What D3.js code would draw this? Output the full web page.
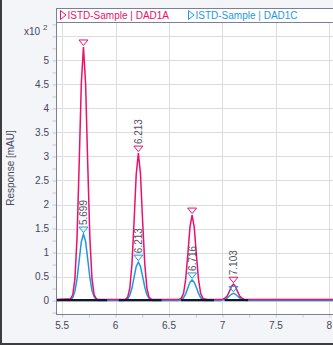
<!DOCTYPE html>
<html><head><meta charset="utf-8">
<script src="https://cdn.jsdelivr.net/npm/d3@7"></script>
<style>body{margin:0;background:#f4f5f8;}svg{display:block;font-family:"Liberation Sans",Arial,sans-serif;}</style>
</head><body><svg id="c" width="333" height="345"></svg>
<script>
// ---- data ----
const times = [5.44,
  5.579,5.599,5.619,5.639,5.659,5.679,5.699,5.719,5.739,5.759,5.779,5.799,5.819, 5.84,
  6.07, 6.093,6.113,6.133,6.153,6.173,6.193,6.213,6.233,6.253,6.273,6.293,6.313,6.333, 6.35,
  6.58, 6.596,6.616,6.636,6.656,6.676,6.696,6.716,6.736,6.756,6.776,6.796,6.816,6.836, 6.86,
  6.96, 6.983,7.003,7.023,7.043,7.063,7.083,7.103,7.123,7.143,7.163,7.183,7.203,7.223, 7.25,
  8.04];
const dad1a = [0.02,
  0.04,0.12,0.45,1.31,2.85,4.52,5.28,4.52,2.85,1.31,0.45,0.12,0.04, 0.02,
  0.02, 0.03,0.07,0.26,0.76,1.65,2.63,3.07,2.63,1.65,0.76,0.26,0.07,0.03, 0.02,
  0.02, 0.03,0.05,0.15,0.44,0.96,1.53,1.78,1.53,0.96,0.44,0.15,0.05,0.03, 0.02,
  0.02, 0.02,0.03,0.05,0.09,0.18,0.29,0.34,0.29,0.18,0.09,0.05,0.03,0.02, 0.02,
  0.02];
const dad1c = [0,
  0.02,0.06,0.19,0.45,0.84,1.22,1.385,1.23,0.86,0.48,0.21,0.08,0.02, 0,
  0, 0.01,0.04,0.11,0.26,0.49,0.71,0.80,0.71,0.50,0.28,0.12,0.05,0.01, 0,
  0, 0.0,0.02,0.06,0.14,0.26,0.38,0.43,0.38,0.27,0.15,0.06,0.02,0.0, 0,
  0, 0,0.01,0.02,0.05,0.09,0.13,0.15,0.13,0.09,0.05,0.02,0.01,0, 0,
  0];
const peakTimes = [5.699, 6.213, 6.716, 7.103];
const peakHeightsA = [5.28, 3.07, 1.78, 0.34];
const peakHeightsC = [1.385, 0.80, 0.43, 0.15];
const peakLabelsA = ["", "6.213", "", "7.103"];
const peakLabelsC = ["5.699", "6.213", "6.716", ""];
const baselineStarts = [5.44, 6.03, 6.61, 7.02];
const baselineEnds = [5.92, 6.43, 6.92, 7.24];
const xTicks = [5.5, 6, 6.5, 7, 7.5, 8];
const xTickLabels = ["5.5", "6", "6.5", "7", "7.5", "8"];
const yTicks = [0, 0.5, 1, 1.5, 2, 2.5, 3, 3.5, 4, 4.5, 5];
const yTickLabels = ["0", "0.5", "1", "1.5", "2", "2.5", "3", "3.5", "4", "4.5", "5"];
const seriesNames = ["ISTD-Sample | DAD1A", "ISTD-Sample | DAD1C"];

// ---- layout ----
const L = 56, R = 333, T = 22, B = 314, LT = 8;
const pink = "#ec0f6c", blue = "#1c98e4", frame = "#7c8097", txt = "#43475c";
const svg = d3.select("#c");
const x = d3.scaleLinear().domain([5.442, 8.035]).range([L, R]);
const y = d3.scaleLinear().domain([-0.28, 5.8]).range([B, T]);

svg.append("rect").attr("width",333).attr("height",345).attr("fill","#f4f5f8");
svg.append("rect").attr("x",0).attr("y",0).attr("width",2).attr("height",345).attr("fill","#3d3d40");
svg.append("rect").attr("x",0).attr("y",343).attr("width",333).attr("height",2).attr("fill","#3d3d40");
svg.append("rect").attr("x",L).attr("y",LT).attr("width",R-L).attr("height",B-LT).attr("fill","#fff");

// grid
const g = svg.append("g");
g.selectAll(".vg").data(xTicks).join("line")
  .attr("x1",d=>Math.round(x(d))+0.5).attr("x2",d=>Math.round(x(d))+0.5)
  .attr("y1",T).attr("y2",B).attr("stroke","#dddddd");
g.selectAll(".hg").data(d3.range(0, 5.51, 0.5)).join("line")
  .attr("y1",d=>Math.round(y(d))+0.5).attr("y2",d=>Math.round(y(d))+0.5)
  .attr("x1",L).attr("x2",R).attr("stroke","#dddddd");

// axes
const xAxis = d3.axisBottom(x).tickValues(d3.range(5.5, 8.01, 0.25)).tickSize(3).tickFormat("");
const ax = svg.append("g").attr("transform",`translate(0,${B+0.5})`).call(xAxis);
ax.select(".domain").remove();
ax.selectAll("line").attr("stroke","#c8c8cc");
const yAxis = d3.axisLeft(y).tickValues(d3.range(-0.25, 5.76, 0.25)).tickSize(4).tickFormat("");
const ay = svg.append("g").attr("transform",`translate(${L+0.5},0)`).call(yAxis);
ay.select(".domain").remove();
ay.selectAll("line").attr("stroke","#c8c8cc");

svg.selectAll(".xl").data(xTicks).join("text")
  .attr("x",d=>x(d)).attr("y",329).attr("text-anchor","middle")
  .attr("font-size",10).attr("fill",txt).text((d,i)=>xTickLabels[i]);
svg.selectAll(".yl").data(yTicks).join("text")
  .attr("x",49).attr("y",d=>y(d)+3.6).attr("text-anchor","end")
  .attr("font-size",10).attr("fill",txt).text((d,i)=>yTickLabels[i]);
const mult = svg.append("text").attr("x",24).attr("y",35).attr("font-size",10).attr("fill",txt);
mult.append("tspan").text("x10 ");
mult.append("tspan").attr("dy",-5).attr("font-size",8).text("2");
svg.append("text").attr("transform","translate(13.5,168) rotate(-90)").attr("text-anchor","middle")
  .attr("font-size",10).attr("fill",txt).text("Response [mAU]");

// traces
const clip = svg.append("clipPath").attr("id","pc").append("rect")
  .attr("x",L).attr("y",T).attr("width",R-L).attr("height",B-T);
const plot = svg.append("g").attr("clip-path","url(#pc)");
const line = d3.line().x(d=>x(d[0])).y(d=>y(d[1]));
plot.append("path").datum(times.map((t,i)=>[t,dad1c[i]]))
  .attr("d",line).attr("fill","none").attr("stroke",blue).attr("stroke-width",1.5);
plot.append("path").datum(times.map((t,i)=>[t,dad1a[i]]))
  .attr("d",line).attr("fill","none").attr("stroke",pink).attr("stroke-width",1.5);
plot.selectAll(".bl").data(baselineStarts).join("line")
  .attr("x1",d=>x(d)).attr("x2",(d,i)=>x(baselineEnds[i]))
  .attr("y1",y(0.01)).attr("y2",y(0.01)).attr("stroke","#0c1a30").attr("stroke-width",2.2);

// markers & labels
function markers(heights, labels, color){
  const mk = plot.append("g");
  heights.forEach((h,i)=>{
    const px = x(peakTimes[i]), yb = y(h) - 1.5, yt = yb - 5.5;
    mk.append("path").attr("d",`M${px-4.5},${yt}L${px+4.5},${yt}L${px},${yb}Z`)
      .attr("fill","none").attr("stroke",color).attr("stroke-width",1);
    if(labels[i]) mk.append("text")
      .attr("transform",`translate(${px+3.6},${yt-2}) rotate(-90)`)
      .attr("font-size",10).attr("fill","#505466").text(labels[i]);
  });
}
markers(peakHeightsA, peakLabelsA, pink);
markers(peakHeightsC, peakLabelsC, blue);

// frame
svg.append("line").attr("x1",L+0.5).attr("x2",L+0.5).attr("y1",LT).attr("y2",B+1).attr("stroke",frame);
svg.append("line").attr("x1",L).attr("x2",R).attr("y1",B+0.5).attr("y2",B+0.5).attr("stroke",frame);
svg.append("line").attr("x1",L).attr("x2",R).attr("y1",LT+0.5).attr("y2",LT+0.5).attr("stroke",frame);
svg.append("line").attr("x1",L).attr("x2",R).attr("y1",T+0.5).attr("y2",T+0.5).attr("stroke",frame);

// legend
const legX = [60, 188], legC = [pink, blue];
seriesNames.forEach((n,i)=>{
  svg.append("path").attr("d",`M${legX[i]+0.5},10.5L${legX[i]+6},15L${legX[i]+0.5},19.5Z`)
    .attr("fill","none").attr("stroke",legC[i]).attr("stroke-width",1);
  svg.append("text").attr("x",legX[i]+7.5).attr("y",19).attr("font-size",10)
    .attr("fill",legC[i]).text(n);
});
</script></body></html>
